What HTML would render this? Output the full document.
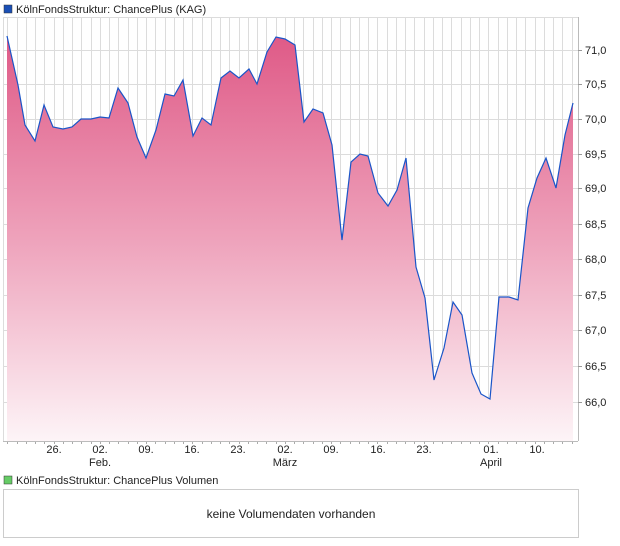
<!DOCTYPE html>
<html><head><meta charset="utf-8"><style>
body{margin:0;background:#fff;width:620px;height:546px;overflow:hidden}
svg{display:block;font-family:"Liberation Sans",sans-serif}
</style></head><body>
<svg width="620" height="546" viewBox="0 0 620 546">
<defs>
<linearGradient id="g" x1="0" y1="36" x2="0" y2="441" gradientUnits="userSpaceOnUse">
<stop offset="0" stop-color="#df5a87"/>
<stop offset="0.5" stop-color="#eea2bb"/>
<stop offset="1" stop-color="#fdf4f7"/>
</linearGradient>
</defs>
<rect x="4" y="5" width="8" height="8" fill="#1a4fb5" stroke="#333" stroke-width="0.5"/>
<text x="16" y="13" font-size="11" fill="#222">KölnFondsStruktur: ChancePlus (KAG)</text>
<path stroke="#dcdcdc" stroke-width="1" fill="none" d="M7.5 17V441M17.5 17V441M26.5 17V441M35.5 17V441M44.5 17V441M54.5 17V441M63.5 17V441M72.5 17V441M81.5 17V441M91.5 17V441M100.5 17V441M109.5 17V441M118.5 17V441M128.5 17V441M137.5 17V441M146.5 17V441M155.5 17V441M165.5 17V441M174.5 17V441M183.5 17V441M192.5 17V441M202.5 17V441M211.5 17V441M220.5 17V441M229.5 17V441M239.5 17V441M248.5 17V441M257.5 17V441M266.5 17V441M276.5 17V441M285.5 17V441M294.5 17V441M303.5 17V441M313.5 17V441M322.5 17V441M331.5 17V441M340.5 17V441M350.5 17V441M359.5 17V441M368.5 17V441M377.5 17V441M387.5 17V441M396.5 17V441M405.5 17V441M414.5 17V441M424.5 17V441M433.5 17V441M442.5 17V441M451.5 17V441M461.5 17V441M470.5 17V441M479.5 17V441M488.5 17V441M498.5 17V441M507.5 17V441M516.5 17V441M525.5 17V441M535.5 17V441M544.5 17V441M553.5 17V441M562.5 17V441M572.5 17V441"/>
<path stroke="#aaa" stroke-width="1" fill="none" d="M7.5 441v3M17.5 441v3M26.5 441v3M35.5 441v3M44.5 441v3M54.5 441v3M63.5 441v3M72.5 441v3M81.5 441v3M91.5 441v3M100.5 441v3M109.5 441v3M118.5 441v3M128.5 441v3M137.5 441v3M146.5 441v3M155.5 441v3M165.5 441v3M174.5 441v3M183.5 441v3M192.5 441v3M202.5 441v3M211.5 441v3M220.5 441v3M229.5 441v3M239.5 441v3M248.5 441v3M257.5 441v3M266.5 441v3M276.5 441v3M285.5 441v3M294.5 441v3M303.5 441v3M313.5 441v3M322.5 441v3M331.5 441v3M340.5 441v3M350.5 441v3M359.5 441v3M368.5 441v3M377.5 441v3M387.5 441v3M396.5 441v3M405.5 441v3M414.5 441v3M424.5 441v3M433.5 441v3M442.5 441v3M451.5 441v3M461.5 441v3M470.5 441v3M479.5 441v3M488.5 441v3M498.5 441v3M507.5 441v3M516.5 441v3M525.5 441v3M535.5 441v3M544.5 441v3M553.5 441v3M562.5 441v3M572.5 441v3"/>
<g stroke="#dcdcdc" stroke-width="1">
<line x1="3" y1="17.5" x2="578" y2="17.5"/>
<line x1="3" y1="50.5" x2="578" y2="50.5"/><line x1="3" y1="84.5" x2="578" y2="84.5"/>
<line x1="3" y1="119.5" x2="578" y2="119.5"/><line x1="3" y1="154.5" x2="578" y2="154.5"/>
<line x1="3" y1="188.5" x2="578" y2="188.5"/><line x1="3" y1="224.5" x2="578" y2="224.5"/>
<line x1="3" y1="259.5" x2="578" y2="259.5"/><line x1="3" y1="295.5" x2="578" y2="295.5"/>
<line x1="3" y1="330.5" x2="578" y2="330.5"/><line x1="3" y1="366.5" x2="578" y2="366.5"/>
<line x1="3" y1="402.5" x2="578" y2="402.5"/>
<line x1="3.5" y1="17" x2="3.5" y2="441"/>
</g>
<polygon fill="url(#g)" points="7,441 7,36 18,85 25,125 35,141 44,105 53,127 63,129 72,127 81,119 91,119 100,117 109,118 118,88 128,103 137,137 146,158 156,130 165,94 174,96 183,80 193,136 202,118 211,125 221,78 230,71 239,78 249,69 257,84 267,52 276,37 285,39 295,45 304,122 313,109 323,113 332,145 342,240 351,162 360,154 368,156 378,193 388,206 397,190 406,158 416,267 425,298 434,380 444,348 453,302 462,315 472,373 481,394 490,399 499,297 509,297 518,300 528,208 537,178 546,158 556,188 565,135 573,103 573,441"/>
<polyline fill="none" stroke="#1a55c8" stroke-width="1.2" points="7,36 18,85 25,125 35,141 44,105 53,127 63,129 72,127 81,119 91,119 100,117 109,118 118,88 128,103 137,137 146,158 156,130 165,94 174,96 183,80 193,136 202,118 211,125 221,78 230,71 239,78 249,69 257,84 267,52 276,37 285,39 295,45 304,122 313,109 323,113 332,145 342,240 351,162 360,154 368,156 378,193 388,206 397,190 406,158 416,267 425,298 434,380 444,348 453,302 462,315 472,373 481,394 490,399 499,297 509,297 518,300 528,208 537,178 546,158 556,188 565,135 573,103"/>
<g stroke="#bbb"><line x1="3" y1="441.5" x2="578" y2="441.5"/><line x1="578.5" y1="17" x2="578.5" y2="441"/></g>
<g stroke="#999">
<line x1="578" y1="50.5" x2="582" y2="50.5"/><line x1="578" y1="84.5" x2="582" y2="84.5"/><line x1="578" y1="119.5" x2="582" y2="119.5"/><line x1="578" y1="154.5" x2="582" y2="154.5"/><line x1="578" y1="188.5" x2="582" y2="188.5"/><line x1="578" y1="224.5" x2="582" y2="224.5"/><line x1="578" y1="259.5" x2="582" y2="259.5"/><line x1="578" y1="295.5" x2="582" y2="295.5"/><line x1="578" y1="330.5" x2="582" y2="330.5"/><line x1="578" y1="366.5" x2="582" y2="366.5"/><line x1="578" y1="402.5" x2="582" y2="402.5"/>
</g>
<g font-size="11" fill="#222">
<text x="585" y="54">71,0</text><text x="585" y="88">70,5</text><text x="585" y="123">70,0</text><text x="585" y="158">69,5</text><text x="585" y="192">69,0</text><text x="585" y="228">68,5</text><text x="585" y="263">68,0</text><text x="585" y="299">67,5</text><text x="585" y="334">67,0</text><text x="585" y="370">66,5</text><text x="585" y="406">66,0</text>
</g>
<g font-size="11" fill="#222" text-anchor="middle">
<text x="54" y="453">26.</text><text x="100" y="453">02.</text><text x="146" y="453">09.</text><text x="192" y="453">16.</text><text x="238" y="453">23.</text><text x="285" y="453">02.</text><text x="331" y="453">09.</text><text x="378" y="453">16.</text><text x="424" y="453">23.</text><text x="491" y="453">01.</text><text x="537" y="453">10.</text>
<text x="100" y="466">Feb.</text><text x="285" y="466">März</text><text x="491" y="466">April</text>
</g>
<rect x="4" y="476" width="8" height="8" fill="#6c6" stroke="#333" stroke-width="0.5"/>
<text x="16" y="484" font-size="11" fill="#222">KölnFondsStruktur: ChancePlus Volumen</text>
<rect x="3.5" y="489.5" width="575" height="48" fill="#fff" stroke="#ccc"/>
<text x="291" y="518" font-size="12" fill="#222" text-anchor="middle">keine Volumendaten vorhanden</text>
</svg>
</body></html>
